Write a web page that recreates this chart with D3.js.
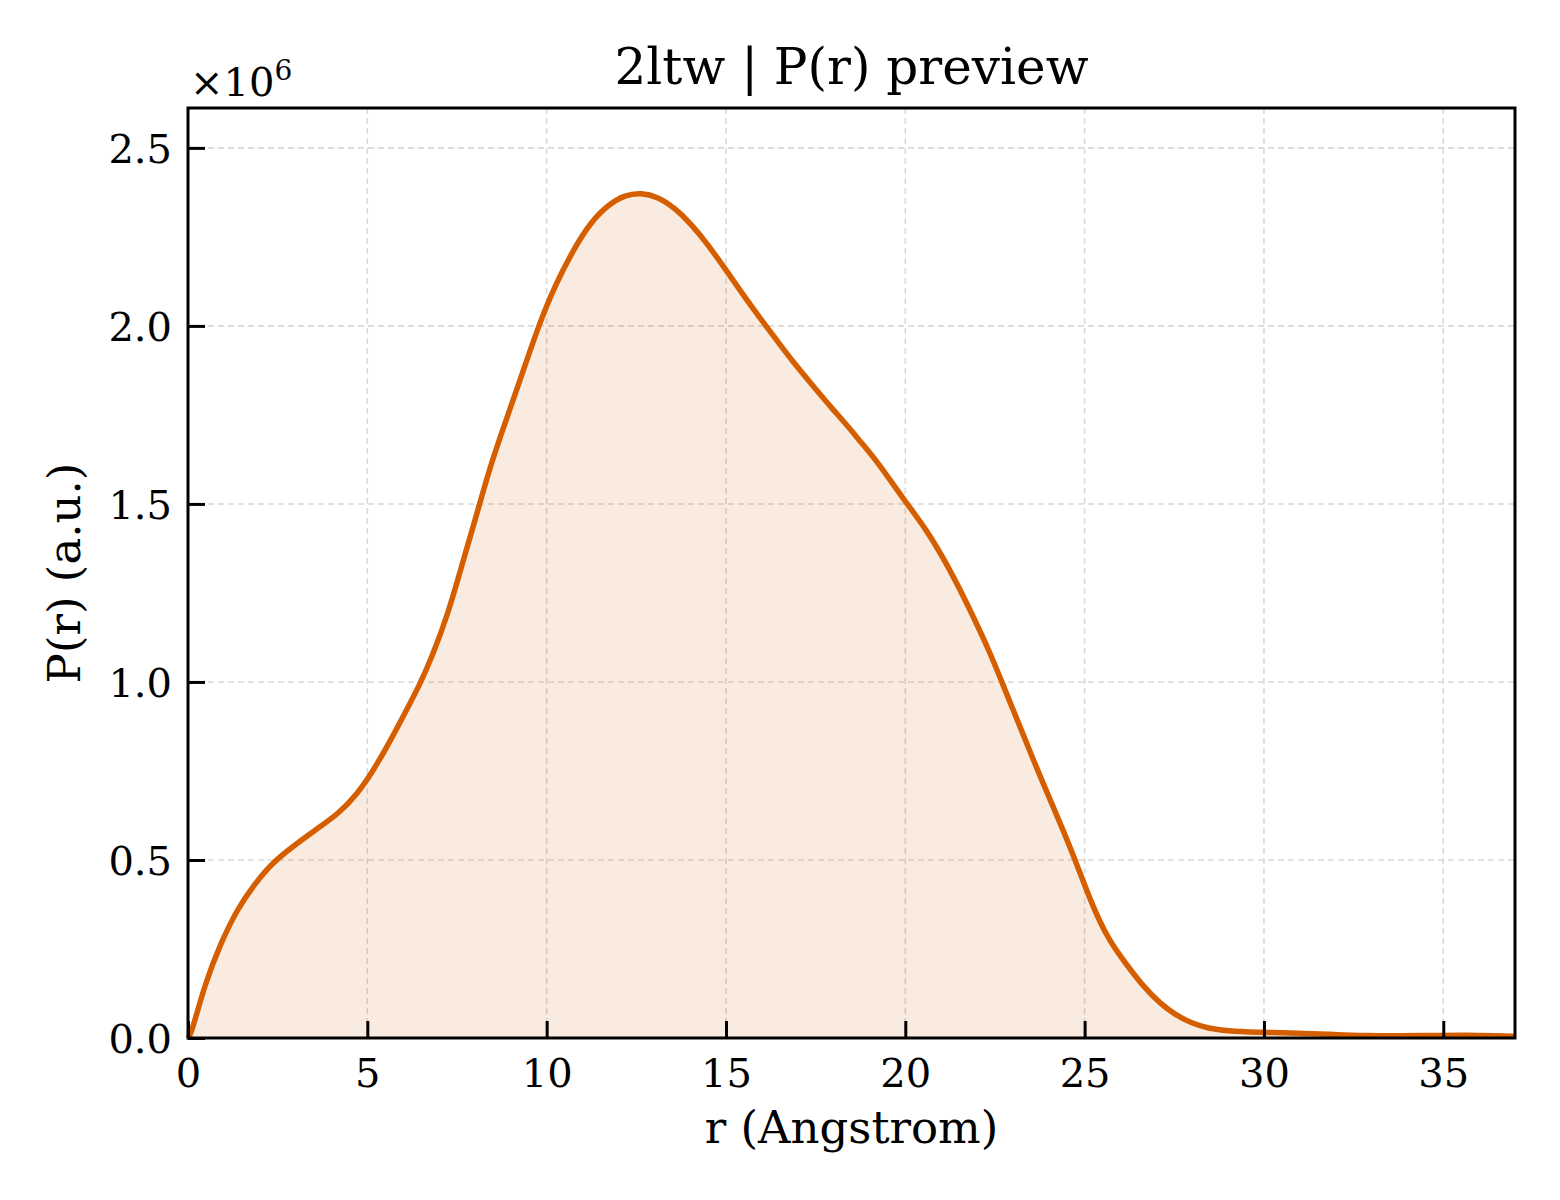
<!DOCTYPE html>
<html>
<head>
<meta charset="utf-8">
<script src="https://cdn.jsdelivr.net/npm/d3@7"></script>
<style>
  body { margin: 0; background: #fff; }
  text { font-family: "DejaVu Serif", serif; fill: #000; }
</style>
</head>
<body>
<div id="chart"></div>
<script>
// P(r) values, in units of 1e6
var rValues = [0, 0.1, 0.47, 0.9, 1.36, 1.86, 2.35, 2.95, 3.6, 4.2, 4.74, 5.12, 5.58, 6.05, 6.45, 6.8,
  7.25, 7.67, 8.05, 8.42, 8.84, 9.26, 9.77, 10.24, 10.74, 11.21, 11.71, 12.19, 12.63, 13.1, 13.58,
  14.05, 14.5, 15.0, 15.48, 15.95, 16.37, 16.87, 17.4, 17.9, 18.4, 18.83, 19.2, 20.0, 20.6, 21.25,
  21.81, 22.37, 22.69, 23.2, 23.76, 24.32, 24.74, 25.16, 25.66, 26.18, 26.64, 27.11, 27.53, 27.99,
  28.45, 28.97, 29.76, 31.0, 31.94, 32.87, 33.8, 34.73, 35.66, 36.5, 37.0]
var prValues = [0, 0.014, 0.152, 0.263, 0.36, 0.433, 0.492, 0.54, 0.588, 0.63, 0.688, 0.744, 0.823, 0.913, 0.99, 1.07,
  1.19, 1.34, 1.47, 1.604, 1.727, 1.848, 2.0, 2.115, 2.213, 2.289, 2.34, 2.368, 2.374, 2.363, 2.331,
  2.284, 2.228, 2.157, 2.087, 2.022, 1.966, 1.899, 1.835, 1.775, 1.718, 1.665, 1.622, 1.506, 1.427, 1.315,
  1.202, 1.081, 1.0, 0.874, 0.734, 0.603, 0.5, 0.385, 0.275, 0.205, 0.144, 0.097, 0.065, 0.041,
  0.027, 0.02, 0.016, 0.014, 0.010, 0.0065, 0.0056, 0.0075, 0.0084, 0.0065, 0.005]

var xTicks = [0, 5, 10, 15, 20, 25, 30, 35]
var yTicks = [0, 0.5, 1.0, 1.5, 2.0, 2.5]

var titleText = "2ltw | P(r) preview"
var xLabelText = "r (Angstrom)"
var yLabelText = "P(r) (a.u.)"

var outerWidth = 1560, outerHeight = 1200
var margins = {top: 108, right: 45, bottom: 162, left: 188}
var innerWidth = outerWidth - margins.left - margins.right
var innerHeight = outerHeight - margins.top - margins.bottom

var lineColor = "#d55e00"

var data = rValues.map(function(r, i) { return {r: r, p: prValues[i]} })

var svg = d3.select("#chart").append("svg")
    .attr("width", outerWidth)
    .attr("height", outerHeight)

var plot = svg.append("g")
    .attr("transform", "translate(" + margins.left + "," + margins.top + ")")

var xScale = d3.scaleLinear().domain([0, 37]).range([0, innerWidth])
var yScale = d3.scaleLinear().domain([0, 2.612]).range([innerHeight, 0])

// grid
plot.selectAll(".vgrid")
    .data(xTicks)
    .enter()
    .append("line")
    .attr("x1", function(d) { return xScale(d) })
    .attr("x2", function(d) { return xScale(d) })
    .attr("y1", 0)
    .attr("y2", innerHeight)
    .style("stroke", "#d9d9d9")
    .style("stroke-width", 1.6)
    .style("stroke-dasharray", "6,4")

plot.selectAll(".hgrid")
    .data(yTicks)
    .enter()
    .append("line")
    .attr("x1", 0)
    .attr("x2", innerWidth)
    .attr("y1", function(d) { return yScale(d) })
    .attr("y2", function(d) { return yScale(d) })
    .style("stroke", "#d9d9d9")
    .style("stroke-width", 1.6)
    .style("stroke-dasharray", "6,4")

// fill + line
var area = d3.area()
    .x(function(d) { return xScale(d.r) })
    .y0(yScale(0))
    .y1(function(d) { return yScale(d.p) })
    .curve(d3.curveBasis)

var line = d3.line()
    .x(function(d) { return xScale(d.r) })
    .y(function(d) { return yScale(d.p) })
    .curve(d3.curveBasis)

plot.append("path")
    .datum(data)
    .attr("d", area)
    .style("fill", lineColor)
    .style("fill-opacity", 0.12)

plot.append("path")
    .datum(data)
    .attr("d", line)
    .style("fill", "none")
    .style("stroke", lineColor)
    .style("stroke-width", 5.5)
    .style("stroke-linejoin", "round")

// axes, ticks pointing inward
var xAxis = plot.append("g")
    .attr("transform", "translate(0," + innerHeight + ")")
    .attr("font-family", "'DejaVu Serif', serif")
    .attr("font-size", 40)
    .call(d3.axisBottom(xScale).tickValues(xTicks).tickSize(-17).tickPadding(20).tickFormat(d3.format("d")))
var yAxis = plot.append("g")
    .attr("font-family", "'DejaVu Serif', serif")
    .attr("font-size", 40)
    .call(d3.axisLeft(yScale).tickValues(yTicks).tickSize(-17).tickPadding(16).tickFormat(d3.format(".1f")))

xAxis.attr("font-family", "'DejaVu Serif', serif").attr("font-size", 40)
yAxis.attr("font-family", "'DejaVu Serif', serif").attr("font-size", 40)
xAxis.select(".domain").remove()
yAxis.select(".domain").remove()
xAxis.selectAll(".tick line").style("stroke", "#000").style("stroke-width", 3)
yAxis.selectAll(".tick line").style("stroke", "#000").style("stroke-width", 3)
xAxis.selectAll(".tick text").attr("dy", "0.72em")
yAxis.selectAll(".tick text").attr("dy", "0.36em")

// frame
plot.append("rect")
    .attr("x", 0)
    .attr("y", 0)
    .attr("width", innerWidth)
    .attr("height", innerHeight)
    .style("fill", "none")
    .style("stroke", "#000")
    .style("stroke-width", 3)

// texts
svg.append("text")
    .attr("x", margins.left + innerWidth / 2)
    .attr("y", 84)
    .attr("text-anchor", "middle")
    .style("font-size", "50px")
    .text(titleText)

var offsetText = svg.append("text")
    .attr("x", 190)
    .attr("y", 96)
    .style("font-size", "40px")
offsetText.append("tspan").text("\u00d710")
offsetText.append("tspan").attr("dy", -16).style("font-size", "28px").text("6")

svg.append("text")
    .attr("x", margins.left + innerWidth / 2)
    .attr("y", 1143)
    .attr("text-anchor", "middle")
    .style("font-size", "45px")
    .text(xLabelText)

svg.append("text")
    .attr("transform", "translate(80," + (margins.top + innerHeight / 2) + ") rotate(-90)")
    .attr("text-anchor", "middle")
    .style("font-size", "45px")
    .text(yLabelText)
</script>
</body>
</html>
